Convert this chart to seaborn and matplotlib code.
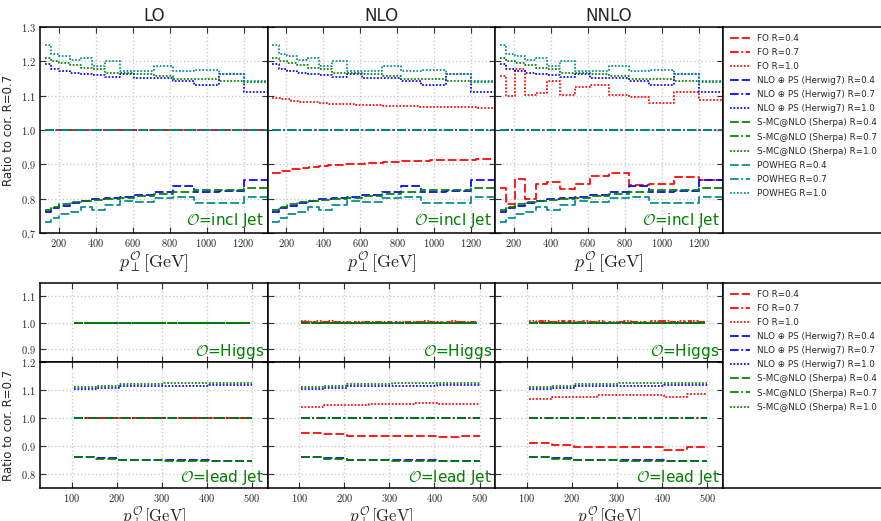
import numpy as np
import pandas as pd
import seaborn as sns
import matplotlib.pyplot as plt
from matplotlib.ticker import FuncFormatter, MultipleLocator

sns.set_style("ticks")
plt.rcParams['font.family'] = ['DejaVu Sans']
plt.rcParams['mathtext.fontset'] = 'cm'

# ---------------- inclusive jet pT (top row) ----------------
jet_edges = [125, 160, 205, 260, 320, 380, 450, 530, 610, 715, 820, 930, 1065, 1200, 1330]
# the NLO fixed-order curves use finer bins
jet_edges_fine = [125, 175, 225, 275, 325, 375, 425, 475, 525, 575, 625, 675, 725,
                  775, 825, 875, 925, 975, 1025, 1075, 1125, 1175, 1225, 1275, 1325]

ones_jet = [1.0] * 14
ones_jet_fine = [1.0] * 24

# matched MC, identical in every column
herwig04 = [0.761, 0.774, 0.780, 0.788, 0.793, 0.798, 0.803, 0.804, 0.810, 0.820, 0.838, 0.818, 0.823, 0.853]
sherpa04 = [0.768, 0.775, 0.785, 0.790, 0.793, 0.795, 0.798, 0.803, 0.808, 0.813, 0.820, 0.825, 0.825, 0.831]
powheg04 = [0.732, 0.743, 0.756, 0.761, 0.777, 0.766, 0.781, 0.792, 0.790, 0.802, 0.804, 0.787, 0.787, 0.806]
herwig10 = [1.192, 1.179, 1.173, 1.167, 1.162, 1.161, 1.153, 1.163, 1.151, 1.151, 1.143, 1.130, 1.163, 1.111]
sherpa10 = [1.210, 1.202, 1.195, 1.188, 1.182, 1.177, 1.166, 1.166, 1.162, 1.157, 1.150, 1.149, 1.142, 1.139]
powheg10 = [1.249, 1.222, 1.215, 1.203, 1.209, 1.185, 1.200, 1.171, 1.171, 1.187, 1.171, 1.175, 1.163, 1.142]

nlo_fo04 = [0.876, 0.882, 0.887, 0.890, 0.893, 0.895, 0.897, 0.899, 0.900, 0.902, 0.903, 0.905,
            0.906, 0.908, 0.909, 0.910, 0.911, 0.912, 0.913, 0.913, 0.914, 0.914, 0.915, 0.916]
nlo_fo10 = [1.094, 1.089, 1.085, 1.083, 1.081, 1.079, 1.077, 1.076, 1.075, 1.074, 1.073, 1.072,
            1.071, 1.070, 1.069, 1.069, 1.068, 1.068, 1.067, 1.067, 1.066, 1.066, 1.065, 1.065]
nnlo_fo04 = [0.831, 0.785, 0.856, 0.800, 0.844, 0.849, 0.827, 0.844, 0.866, 0.875, 0.841, 0.844, 0.864, 0.854]
nnlo_fo10 = [1.158, 1.098, 1.178, 1.101, 1.108, 1.142, 1.103, 1.124, 1.132, 1.103, 1.095, 1.079, 1.110, 1.086]

# ---------------- Higgs / leading jet (bottom row) ----------------
lead_edges = [105, 155, 205, 255, 305, 355, 405, 455, 500]
ones_lead = [1.0] * 8
herwig04_lj = [0.862, 0.856, 0.851, 0.850, 0.849, 0.849, 0.848, 0.848]
sherpa04_lj = [0.861, 0.855, 0.850, 0.849, 0.848, 0.848, 0.848, 0.847]
herwig10_lj = [1.102, 1.108, 1.114, 1.114, 1.113, 1.113, 1.117, 1.117]
sherpa10_lj = [1.110, 1.116, 1.122, 1.123, 1.126, 1.126, 1.126, 1.126]
nlo_fo04_lj = [0.948, 0.942, 0.937, 0.936, 0.935, 0.935, 0.931, 0.934]
nlo_fo10_lj = [1.039, 1.045, 1.046, 1.050, 1.050, 1.055, 1.051, 1.051]
nnlo_fo04_lj = [0.910, 0.905, 0.896, 0.896, 0.897, 0.898, 0.885, 0.897]
nnlo_fo10_lj = [1.068, 1.075, 1.075, 1.081, 1.083, 1.083, 1.075, 1.087]

higgs_edges = [105, 120, 135, 150, 165, 180, 195, 210, 225, 240, 255, 270, 285, 300,
               315, 330, 345, 360, 375, 390, 405, 420, 435, 450, 465, 480, 495]
ones_higgs = [1.0] * 26
nlo_fo04_h = [1.001, 1.003, 0.999, 1.003, 1.000, 1.003, 0.999, 1.002, 1.000, 1.002, 0.999, 1.001, 1.000,
              1.002, 0.999, 1.001, 1.000, 1.002, 0.999, 1.003, 1.000, 1.002, 0.999, 1.003, 1.000, 1.002]
nlo_fo10_h = [1.004, 1.001, 1.004, 1.001, 1.004, 1.000, 1.003, 1.000, 1.003, 1.001, 1.002, 1.000, 1.002,
              1.000, 1.002, 1.001, 1.003, 1.000, 1.004, 1.001, 1.003, 1.000, 1.004, 1.001, 1.003, 1.001]
nnlo_fo04_h = [0.998, 1.004, 0.999, 1.003, 0.998, 1.004, 0.999, 1.003, 0.999, 1.002, 0.998, 1.002, 0.999,
               1.003, 0.999, 1.002, 0.998, 1.003, 0.999, 1.004, 0.998, 1.003, 0.999, 1.004, 0.998, 1.003]
nnlo_fo10_h = [1.005, 1.001, 1.005, 1.000, 1.005, 1.001, 1.004, 1.000, 1.005, 1.001, 1.004, 1.000, 1.003,
               1.000, 1.004, 1.001, 1.003, 1.000, 1.004, 1.000, 1.005, 1.001, 1.004, 1.000, 1.005, 1.001]

orders = ['LO', 'NLO', 'NNLO']
radii = ['0.4', '0.7', '1.0']
generators = ['FO', 'NLO \u2295 PS (Herwig7)', 'S-MC@NLO (Sherpa)', 'POWHEG']
colors = {'FO': 'red', 'NLO \u2295 PS (Herwig7)': 'blue',
          'S-MC@NLO (Sherpa)': 'green', 'POWHEG': 'darkcyan'}
styles = {'0.4': (0, (5, 1.8)), '0.7': (0, (5, 1.5, 1, 1.5)), '1.0': (0, (1, 1))}

fo_jet = {
    'LO': {'0.4': (jet_edges, ones_jet), '0.7': (jet_edges, ones_jet), '1.0': (jet_edges, ones_jet)},
    'NLO': {'0.4': (jet_edges_fine, nlo_fo04), '0.7': (jet_edges_fine, ones_jet_fine),
            '1.0': (jet_edges_fine, nlo_fo10)},
    'NNLO': {'0.4': (jet_edges, nnlo_fo04), '0.7': (jet_edges, ones_jet), '1.0': (jet_edges, nnlo_fo10)},
}
mc_jet = {
    'NLO \u2295 PS (Herwig7)': {'0.4': herwig04, '0.7': ones_jet, '1.0': herwig10},
    'S-MC@NLO (Sherpa)': {'0.4': sherpa04, '0.7': ones_jet, '1.0': sherpa10},
    'POWHEG': {'0.4': powheg04, '0.7': ones_jet, '1.0': powheg10},
}
fo_lead = {
    'LO': {'0.4': ones_lead, '0.7': ones_lead, '1.0': ones_lead},
    'NLO': {'0.4': nlo_fo04_lj, '0.7': ones_lead, '1.0': nlo_fo10_lj},
    'NNLO': {'0.4': nnlo_fo04_lj, '0.7': ones_lead, '1.0': nnlo_fo10_lj},
}
mc_lead = {
    'NLO \u2295 PS (Herwig7)': {'0.4': herwig04_lj, '0.7': ones_lead, '1.0': herwig10_lj},
    'S-MC@NLO (Sherpa)': {'0.4': sherpa04_lj, '0.7': ones_lead, '1.0': sherpa10_lj},
}
fo_higgs = {
    'LO': {'0.4': ones_higgs, '0.7': ones_higgs, '1.0': ones_higgs},
    'NLO': {'0.4': nlo_fo04_h, '0.7': ones_higgs, '1.0': nlo_fo10_h},
    'NNLO': {'0.4': nnlo_fo04_h, '0.7': ones_higgs, '1.0': nnlo_fo10_h},
}


def step(ax, edges, vals, gen, r, with_label):
    x = list(edges)
    y = list(vals) + [vals[-1]]
    sns.lineplot(x=x, y=y, ax=ax, color=colors[gen], linestyle=styles[r], lw=1.25,
                 drawstyle='steps-post', errorbar=None, legend=False,
                 label=f'{gen} R={r}' if with_label else None)


def style_axes(ax, first_col, show_x):
    ax.set_axisbelow(True)
    ax.grid(True, color='#cccccc', linestyle=':', linewidth=1.0)
    ax.tick_params(direction='in', length=4, width=0.8, top=True, right=True,
                   labelsize=7.5, color='#333333', pad=3)
    ax.tick_params(labelleft=first_col, labelbottom=show_x)
    ax.yaxis.set_major_formatter(FuncFormatter(lambda v, p: f'${v:.1f}$'))
    ax.xaxis.set_major_formatter(FuncFormatter(lambda v, p: f'${v:.0f}$'))
    for s in ax.spines.values():
        s.set_linewidth(1.1)
        s.set_color('black')
    ax.set_xlabel('')
    ax.set_ylabel('')


fig = plt.figure(figsize=(8.81, 5.21), dpi=100)
W, H = 881.0, 521.0
x0, x1 = 40, 723
cw = (x1 - x0) / 3.0
xlabel = r'$p_{\perp}^{\mathcal{O}}[\mathrm{GeV}]$'
ylab = 'Ratio to cor. R=0.7'


def box(left, top, width, bottom):
    return [left / W, 1 - bottom / H, width / W, (bottom - top) / H]


for i, order in enumerate(orders):
    left = x0 + i * cw
    # ---- top row: inclusive jet
    ax = fig.add_axes(box(left, 27, cw, 233))
    for gen in generators:
        for r in radii:
            if gen == 'FO':
                edges, vals = fo_jet[order][r]
            else:
                edges, vals = jet_edges, mc_jet[gen][r]
            step(ax, edges, vals, gen, r, i == 0)
    ax.set_xlim(100, 1330)
    ax.set_ylim(0.7, 1.3)
    ax.xaxis.set_major_locator(MultipleLocator(200))
    ax.yaxis.set_major_locator(MultipleLocator(0.1))
    style_axes(ax, i == 0, True)
    ax.set_title(order, fontsize=12, pad=4)
    ax.set_xlabel(xlabel, fontsize=13, labelpad=0)
    if i == 0:
        ax.set_ylabel(ylab, fontsize=8.5)
        top_handles, top_labels = ax.get_legend_handles_labels()
    ax.text(0.985, 0.015, r'$\mathcal{O}$=incl Jet', transform=ax.transAxes,
            ha='right', va='bottom', color='green', fontsize=11)

    # ---- bottom row: Higgs
    axh = fig.add_axes(box(left, 283, cw, 362))
    for gen in generators[:3]:
        for r in radii:
            vals = fo_higgs[order][r] if gen == 'FO' else ones_higgs
            step(axh, higgs_edges, vals, gen, r, False)
    axh.set_xlim(30, 535)
    axh.set_ylim(0.85, 1.15)
    axh.xaxis.set_major_locator(MultipleLocator(100))
    axh.yaxis.set_major_locator(MultipleLocator(0.1))
    style_axes(axh, i == 0, False)
    axh.text(0.985, 0.01, r'$\mathcal{O}$=Higgs', transform=axh.transAxes,
             ha='right', va='bottom', color='green', fontsize=11)

    # ---- bottom row: leading jet
    axl = fig.add_axes(box(left, 362, cw, 488))
    for gen in generators[:3]:
        for r in radii:
            vals = fo_lead[order][r] if gen == 'FO' else mc_lead[gen][r]
            step(axl, lead_edges, vals, gen, r, i == 0)
    axl.set_xlim(30, 535)
    axl.set_ylim(0.75, 1.2)
    axl.xaxis.set_major_locator(MultipleLocator(100))
    axl.yaxis.set_major_locator(MultipleLocator(0.1))
    style_axes(axl, i == 0, True)
    axl.set_xlabel(xlabel, fontsize=12, labelpad=0)
    if i == 0:
        axl.set_ylabel(ylab, fontsize=8.5)
        bot_handles, bot_labels = axl.get_legend_handles_labels()
    axl.text(0.985, 0.01, r'$\mathcal{O}$=lead Jet', transform=axl.transAxes,
             ha='right', va='bottom', color='green', fontsize=11)

# legend boxes on the right
for (top, bottom), hl in [((27, 233), (top_handles, top_labels)),
                          ((283, 488), (bot_handles, bot_labels))]:
    lax = fig.add_axes(box(x1, top, 250, bottom))
    lax.set_xticks([])
    lax.set_yticks([])
    for s in lax.spines.values():
        s.set_linewidth(1.1)
        s.set_color('black')
    lax.legend(hl[0], hl[1], loc='upper left', frameon=False, fontsize=6.3,
               handlelength=2.3, labelspacing=0.58, borderaxespad=0.4)

fig.savefig('out.png', dpi=100)
